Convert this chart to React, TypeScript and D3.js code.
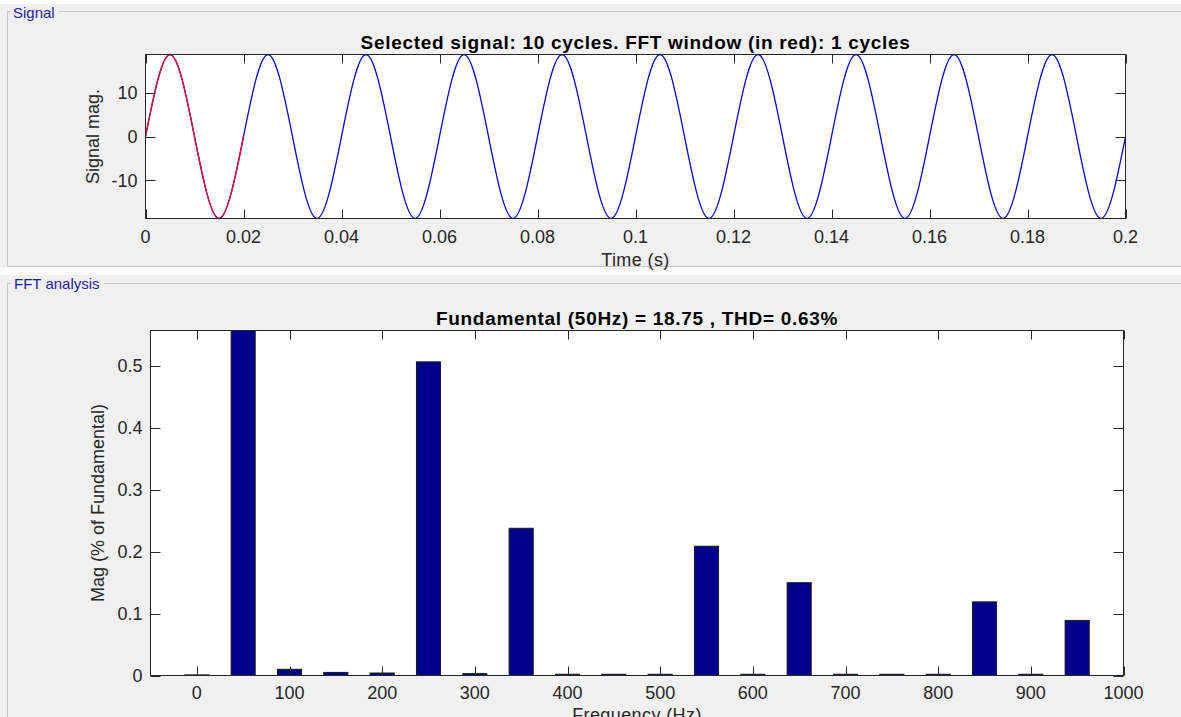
import React from "react";
import * as d3 from "d3";

const W = 1181;
const H = 717;

// Signal samples taken every quarter cycle (s, and signal magnitude)
const signalTimes = [
  0, 0.005, 0.01, 0.015, 0.02, 0.025, 0.03, 0.035, 0.04, 0.045, 0.05, 0.055, 0.06, 0.065,
  0.07, 0.075, 0.08, 0.085, 0.09, 0.095, 0.1, 0.105, 0.11, 0.115, 0.12, 0.125, 0.13, 0.135,
  0.14, 0.145, 0.15, 0.155, 0.16, 0.165, 0.17, 0.175, 0.18, 0.185, 0.19, 0.195, 0.2,
];
const signalValues = [
  0, 18.75, 0, -18.75, 0, 18.75, 0, -18.75, 0, 18.75, 0, -18.75, 0, 18.75,
  0, -18.75, 0, 18.75, 0, -18.75, 0, 18.75, 0, -18.75, 0, 18.75, 0, -18.75,
  0, 18.75, 0, -18.75, 0, 18.75, 0, -18.75, 0, 18.75, 0, -18.75, 0,
];
const fftWindowEnd = 0.02;
const signalRange = [-18.75, 18.75];
const timeTicks = [0, 0.02, 0.04, 0.06, 0.08, 0.1, 0.12, 0.14, 0.16, 0.18, 0.2];
const signalTicks = [-10, 0, 10];

// Harmonic spectrum (% of fundamental)
const harmonicFreqs = [
  0, 50, 100, 150, 200, 250, 300, 350, 400, 450, 500, 550, 600, 650, 700, 750, 800, 850, 900, 950,
];
const harmonicMags = [
  0.001, 100, 0.01, 0.005, 0.004, 0.507, 0.003, 0.238, 0.002, 0.002, 0.002, 0.209, 0.002, 0.15,
  0.002, 0.002, 0.002, 0.119, 0.002, 0.089,
];
const freqRange = [-50, 1000];
const magRange = [0, 0.5577];
const freqTicks = [0, 100, 200, 300, 400, 500, 600, 700, 800, 900, 1000];
const magTicks = [0, 0.1, 0.2, 0.3, 0.4, 0.5];

const FONT = "'Liberation Sans', Arial, Helvetica, sans-serif";
const AXIS_COLOR = "#262626";
const PANEL_TEXT = "#1e1ea8";

const sig = { left: 145.5, right: 1125.5, top: 54.5, bottom: 218.5 };
const fft = { left: 150.5, right: 1123.5, top: 330.5, bottom: 675.5 };

export default function App() {
  const xs = d3.scaleLinear().domain([0, 0.2]).range([sig.left, sig.right]);
  const ys = d3.scaleLinear().domain(signalRange).range([sig.bottom, sig.top]);

  const pts = signalTimes.map((t, i) => [t, signalValues[i]] as [number, number]);
  const line = d3
    .line<[number, number]>()
    .x((d) => xs(d[0]))
    .y((d) => ys(d[1]))
    .curve(d3.curveNatural);
  const fullPath = line(pts) || "";
  const windowPath = line(pts.filter((d) => d[0] <= fftWindowEnd)) || "";

  const xf = d3.scaleLinear().domain(freqRange).range([fft.left, fft.right]);
  const yf = d3.scaleLinear().domain(magRange).range([fft.bottom, fft.top]);
  const barW = xf(26) - xf(0);

  const tickX = 9;
  const tickY = 10;

  return (
    <div style={{ position: "absolute", left: 0, top: 0 }}>
      <svg width={W} height={H} style={{ display: "block" }} fontFamily={FONT}>
        <defs>
          <clipPath id="fftClip">
            <rect x={fft.left} y={fft.top} width={fft.right - fft.left} height={fft.bottom - fft.top} />
          </clipPath>
        </defs>
        <rect x={0} y={0} width={W} height={H} fill="#f0f0f0" />
        <rect x={0} y={0} width={W} height={4} fill="#ffffff" />
        <rect x={0} y={267} width={W} height={8} fill="#fafafa" />

        {/* Panel frames */}
        <g stroke="#c4c4c4" strokeWidth={1} fill="none">
          <path d={`M${W},11.5 H7.5 V266.5 H${W}`} />
          <path d={`M${W},283.5 H7.5 V${H}`} />
        </g>
        <rect x={11} y={4} width={48} height={18} fill="#f0f0f0" />
        <text x={13} y={18} fontSize={15} fill={PANEL_TEXT}>
          Signal
        </text>
        <rect x={11} y={276} width={93} height={18} fill="#f0f0f0" />
        <text x={14} y={289} fontSize={15} fill={PANEL_TEXT}>
          FFT analysis
        </text>

        {/* Signal axes */}
        <rect
          x={sig.left}
          y={sig.top}
          width={sig.right - sig.left}
          height={sig.bottom - sig.top}
          fill="#ffffff"
        />
        <path d={fullPath} fill="none" stroke="#0000ff" strokeWidth={1.3} />
        <path d={windowPath} fill="none" stroke="#f0002a" strokeWidth={1.4} />
        <g stroke={AXIS_COLOR} strokeWidth={1}>
          {timeTicks.map((t) => (
            <g key={`tt${t}`}>
              <line x1={Math.round(xs(t)) + 0.5} x2={Math.round(xs(t)) + 0.5} y1={sig.bottom} y2={sig.bottom - tickX} />
              <line x1={Math.round(xs(t)) + 0.5} x2={Math.round(xs(t)) + 0.5} y1={sig.top} y2={sig.top + tickX} />
            </g>
          ))}
          {signalTicks.map((v) => (
            <g key={`st${v}`}>
              <line x1={sig.left} x2={sig.left + tickY} y1={Math.round(ys(v)) + 0.5} y2={Math.round(ys(v)) + 0.5} />
              <line x1={sig.right} x2={sig.right - tickY} y1={Math.round(ys(v)) + 0.5} y2={Math.round(ys(v)) + 0.5} />
            </g>
          ))}
          <rect
            x={sig.left}
            y={sig.top}
            width={sig.right - sig.left}
            height={sig.bottom - sig.top}
            fill="none"
          />
        </g>
        <g fontSize={18} fill={AXIS_COLOR}>
          {timeTicks.map((t) => (
            <text key={`tl${t}`} x={xs(t)} y={243} textAnchor="middle">
              {String(t)}
            </text>
          ))}
          {signalTicks.map((v) => (
            <text key={`sl${v}`} x={sig.left - 8} y={ys(v)} dy="0.35em" textAnchor="end">
              {String(v)}
            </text>
          ))}
          <text x={(sig.left + sig.right) / 2} y={266} textAnchor="middle" letterSpacing={0.4}>
            Time (s)
          </text>
          <text
            transform={`translate(99,${(sig.top + sig.bottom) / 2}) rotate(-90)`}
            textAnchor="middle"
          >
            Signal mag.
          </text>
        </g>
        <text
          x={(sig.left + sig.right) / 2}
          y={48.5}
          textAnchor="middle"
          fontSize={19}
          fontWeight="bold"
          letterSpacing={0.7}
          fill="#000000"
        >
          Selected signal: 10 cycles. FFT window (in red): 1 cycles
        </text>

        {/* FFT axes */}
        <rect
          x={fft.left}
          y={fft.top}
          width={fft.right - fft.left}
          height={fft.bottom - fft.top}
          fill="#ffffff"
        />
        <g clipPath="url(#fftClip)">
          {harmonicFreqs.map((f, i) => {
            const top = yf(harmonicMags[i]);
            return (
              <rect
                key={`b${f}`}
                x={xf(f) - barW / 2}
                y={top}
                width={barW}
                height={Math.max(0, fft.bottom - top)}
                fill="#00008c"
                stroke="#1a1a1a"
                strokeWidth={1}
              />
            );
          })}
        </g>
        <g stroke={AXIS_COLOR} strokeWidth={1}>
          {freqTicks.map((f) => (
            <g key={`ft${f}`}>
              <line x1={Math.round(xf(f)) + 0.5} x2={Math.round(xf(f)) + 0.5} y1={fft.bottom} y2={fft.bottom - tickX} />
              <line x1={Math.round(xf(f)) + 0.5} x2={Math.round(xf(f)) + 0.5} y1={fft.top} y2={fft.top + tickX} />
            </g>
          ))}
          {magTicks.map((v) => (
            <g key={`mt${v}`}>
              <line x1={fft.left} x2={fft.left + tickY} y1={Math.round(yf(v)) + 0.5} y2={Math.round(yf(v)) + 0.5} />
              <line x1={fft.right} x2={fft.right - tickY} y1={Math.round(yf(v)) + 0.5} y2={Math.round(yf(v)) + 0.5} />
            </g>
          ))}
          <rect
            x={fft.left}
            y={fft.top}
            width={fft.right - fft.left}
            height={fft.bottom - fft.top}
            fill="none"
          />
        </g>
        <g fontSize={18} fill={AXIS_COLOR}>
          {freqTicks.map((f) => (
            <text key={`fl${f}`} x={xf(f)} y={699} textAnchor="middle">
              {String(f)}
            </text>
          ))}
          {magTicks.map((v) => (
            <text key={`ml${v}`} x={fft.left - 8} y={yf(v)} dy="0.35em" textAnchor="end">
              {String(v)}
            </text>
          ))}
          <text x={(fft.left + fft.right) / 2} y={721} textAnchor="middle" letterSpacing={0.4}>
            Frequency (Hz)
          </text>
          <text
            transform={`translate(104,${(fft.top + fft.bottom) / 2}) rotate(-90)`}
            textAnchor="middle"
          >
            Mag (% of Fundamental)
          </text>
        </g>
        <text
          x={(fft.left + fft.right) / 2}
          y={325}
          textAnchor="middle"
          fontSize={19}
          fontWeight="bold"
          letterSpacing={0.7}
          fill="#000000"
        >
          Fundamental (50Hz) = 18.75 , THD= 0.63%
        </text>
      </svg>
    </div>
  );
}
